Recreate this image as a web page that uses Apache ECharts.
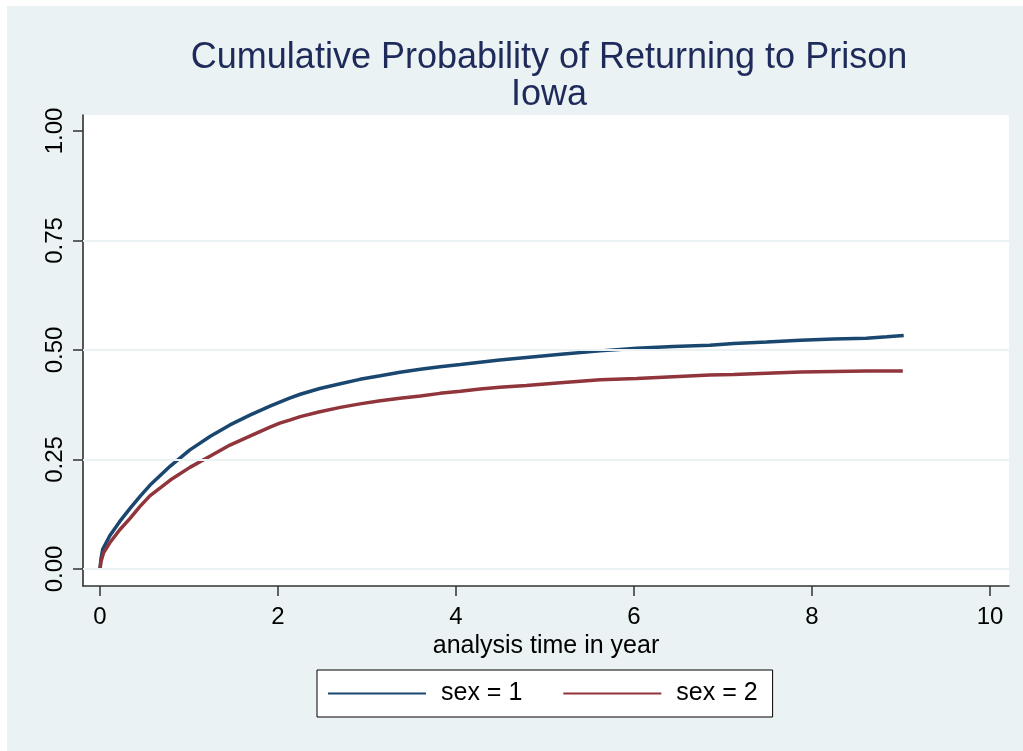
<!DOCTYPE html>
<html>
<head>
<meta charset="utf-8">
<script src="https://cdn.jsdelivr.net/npm/echarts@6/dist/echarts.min.js"></script>
<style>
  html, body { margin: 0; padding: 0; background: #ffffff; width: 1023px; height: 751px; overflow: hidden; }
  #bg { position: absolute; left: 7px; top: 6px; right: 0; bottom: 0; background: #eaf2f3; }
  #chart { position: absolute; left: 0; top: 0; width: 1023px; height: 751px; }
</style>
</head>
<body>
<div id="bg"></div>
<div id="chart"></div>
<script>
// ---- data ----
const titleLines = ['Cumulative Probability of Returning to Prison', 'Iowa'];
const xAxisTitle = 'analysis time in year';
const seriesNames = ['sex = 1', 'sex = 2'];
const xTicks = [0, 2, 4, 6, 8, 10];
const yTicks = [0, 0.25, 0.5, 0.75, 1];
const gridLevels = [0, 0.25, 0.5, 0.75];

// sex = 1
const timeSex1 = [0, 0.01, 0.03, 0.11, 0.22, 0.34, 0.45, 0.56, 0.79, 1.01, 1.24, 1.46, 1.69, 1.91, 2.02, 2.13, 2.25, 2.47, 2.70, 2.92, 3.15, 3.37, 3.60, 3.82, 4.05, 4.27, 4.49, 4.79, 5.21, 5.62, 6.03, 6.44, 6.85, 7.12, 7.49, 7.87, 8.24, 8.61, 8.84, 9.03];
const probSex1 = [0, 0.022, 0.045, 0.076, 0.108, 0.139, 0.166, 0.191, 0.235, 0.272, 0.303, 0.329, 0.352, 0.372, 0.381, 0.390, 0.399, 0.412, 0.423, 0.433, 0.441, 0.449, 0.456, 0.462, 0.467, 0.472, 0.477, 0.483, 0.491, 0.498, 0.504, 0.508, 0.511, 0.515, 0.518, 0.522, 0.525, 0.527, 0.530, 0.533];
// sex = 2
const timeSex2 = [0, 0.01, 0.04, 0.11, 0.22, 0.34, 0.45, 0.56, 0.79, 1.01, 1.24, 1.46, 1.69, 1.91, 2.02, 2.13, 2.25, 2.47, 2.70, 2.92, 3.15, 3.37, 3.60, 3.82, 4.05, 4.27, 4.49, 4.79, 5.21, 5.62, 6.03, 6.44, 6.85, 7.12, 7.49, 7.87, 8.24, 8.61, 9.02];
const probSex2 = [0, 0.016, 0.037, 0.060, 0.089, 0.116, 0.143, 0.167, 0.203, 0.232, 0.258, 0.283, 0.304, 0.324, 0.333, 0.340, 0.348, 0.359, 0.369, 0.377, 0.384, 0.390, 0.395, 0.401, 0.406, 0.411, 0.415, 0.419, 0.426, 0.432, 0.435, 0.439, 0.443, 0.444, 0.447, 0.450, 0.451, 0.452, 0.452];

const pairs = (xs, ys) => xs.map((x, i) => [x, ys[i]]);
const FONT = '"Liberation Sans", Arial, Helvetica, sans-serif';

const chart = echarts.init(document.getElementById('chart'), null, { renderer: 'canvas' });
chart.setOption({
  animation: false,
  backgroundColor: 'transparent',
  textStyle: { fontFamily: FONT },
  title: {
    text: titleLines.join('\n'),
    left: 544,
    top: 35,
    textAlign: 'center',
    textStyle: { fontFamily: FONT, fontSize: 36, fontWeight: 'normal', color: '#1e2a5a', lineHeight: 37, align: 'center' }
  },
  legend: {
    data: seriesNames,
    left: 317,
    top: 670,
    icon: 'rect',
    itemWidth: 98,
    itemHeight: 2,
    itemGap: 41,
    padding: [11, 15, 11, 11],
    backgroundColor: '#ffffff',
    borderColor: '#000000',
    borderWidth: 1,
    borderRadius: 0,
    textStyle: { fontFamily: FONT, fontSize: 25, color: '#000000', padding: [0, 0, 0, 10] }
  },
  grid: {
    left: 83, right: 14, top: 115, bottom: 165,
    show: true, backgroundColor: '#ffffff', borderWidth: 0
  },
  xAxis: {
    type: 'value',
    min: -0.191,
    max: 10.213,
    name: xAxisTitle,
    nameLocation: 'middle',
    nameGap: 39,
    nameTextStyle: { fontFamily: FONT, fontSize: 25, color: '#000000' },
    axisLine: { show: true, onZero: false, lineStyle: { color: '#333333', width: 1.5 } },
    axisTick: { show: true, length: 10, customValues: xTicks, lineStyle: { color: '#333333', width: 1.5 } },
    axisLabel: { customValues: xTicks, fontFamily: FONT, fontSize: 24, color: '#000000', margin: 19 },
    splitLine: { show: false }
  },
  yAxis: {
    type: 'value',
    min: -0.0388,
    max: 1.0365,
    axisLine: { show: true, onZero: false, lineStyle: { color: '#222222', width: 1.5 } },
    axisTick: { show: true, length: 10, customValues: yTicks, lineStyle: { color: '#333333', width: 1.5 } },
    axisLabel: {
      customValues: yTicks,
      rotate: 90,
      fontFamily: FONT, fontSize: 24, color: '#000000', margin: 16,
      formatter: v => Number(v).toFixed(2)
    },
    splitLine: { show: false }
  },
  series: [
    {
      name: 'gridlines',
      type: 'line',
      data: [],
      z: 1,
      silent: true,
      markLine: {
        silent: true,
        symbol: 'none',
        label: { show: false },
        lineStyle: { color: '#eaf2f3', width: 2, type: 'solid' },
        data: gridLevels.map(v => ({ yAxis: v }))
      }
    },
    {
      name: seriesNames[0],
      type: 'line',
      data: pairs(timeSex1, probSex1),
      showSymbol: false,
      symbol: 'none',
      z: 3,
      lineStyle: { color: '#1a476f', width: 3.5 },
      itemStyle: { color: '#1a476f' }
    },
    {
      name: seriesNames[1],
      type: 'line',
      data: pairs(timeSex2, probSex2),
      showSymbol: false,
      symbol: 'none',
      z: 3,
      lineStyle: { color: '#90353b', width: 3.5 },
      itemStyle: { color: '#90353b' }
    }
  ]
});
</script>
</body>
</html>
